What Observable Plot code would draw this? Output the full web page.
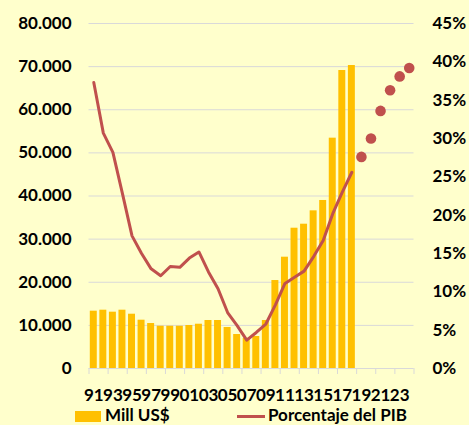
<!DOCTYPE html>
<html>
<head>
<meta charset="utf-8">
<script src="https://cdn.jsdelivr.net/npm/d3@7"></script>
<script src="https://cdn.jsdelivr.net/npm/@observablehq/plot@0.6"></script>
<style>
  html, body { margin: 0; padding: 0; background: #FFFFCC; }
  #wrap { position: relative; width: 469px; height: 425px; overflow: hidden; background: #FFFFCC;
          font-family: Lato, "Open Sans", sans-serif; font-weight: bold; font-size: 17px; color: #000; }
  #chart { position: absolute; left: 0; top: 0; }
  .lg { position: absolute; white-space: nowrap; line-height: 17px; }
</style>
</head>
<body>
<div id="wrap">
  <div id="chart"></div>
  <div class="lg" style="left:75px; top:411px; width:26px; height:11px; background:#FFC000;"></div>
  <div class="lg" style="left:105px; top:406px;">Mill US$</div>
  <div class="lg" style="left:237px; top:414.5px; width:28px; height:3px; background:#C0504D;"></div>
  <div class="lg" style="left:268px; top:406px;">Porcentaje del PIB</div>
</div>
<script>
// ---- data ----
const years = [1991,1992,1993,1994,1995,1996,1997,1998,1999,2000,2001,2002,2003,2004,2005,2006,2007,2008,2009,2010,2011,2012,2013,2014,2015,2016,2017,2018,2019,2020,2021,2022,2023,2024];
const barYears = [1991,1992,1993,1994,1995,1996,1997,1998,1999,2000,2001,2002,2003,2004,2005,2006,2007,2008,2009,2010,2011,2012,2013,2014,2015,2016,2017,2018];
const millUSD = [13290,13520,13060,13520,12590,11200,10430,9810,9810,9810,9970,10270,11130,11130,9510,7880,7000,7420,11130,20400,25810,32530,33460,36560,38960,53410,69100,70260];
const pctPIB = [37.3,30.7,28.2,22.8,17.3,15.0,13.0,12.1,13.3,13.2,14.4,15.2,12.6,10.4,7.3,5.6,3.7,4.7,5.8,8.3,11.1,11.9,12.7,14.6,16.7,20.2,23.0,25.6];
const projYears = [2019,2020,2021,2022,2023,2024];
const projPct = [27.6,30.0,33.6,36.3,38.1,39.2];
const leftTicks = [0,10000,20000,30000,40000,50000,60000,70000,80000];
const rightTicks = [0,5,10,15,20,25,30,35,40,45];
const labelYears = [1991,1993,1995,1997,1999,2001,2003,2005,2007,2009,2011,2013,2015,2017,2019,2021,2023];

// ---- derived tables ----
const bars = barYears.map((y, i) => ({year: y, value: millUSD[i]}));
const line = barYears.map((y, i) => ({year: y, pct: pctPIB[i]}));
const proj = projYears.map((y, i) => ({year: y, pct: projPct[i]}));
const yMax = leftTicks[leftTicks.length - 1];
const pMax = rightTicks[rightTicks.length - 1];
const k = yMax / pMax;

const W = 469, H = 403, mL = 88.5, mR = 55.5;
const step = (W - mL - mR) / years.length;
const fmt = d => d3.format(",")(d).replace(/,/g, ".");
const grid = "#d9d9d9";

const chart = Plot.plot({
  width: W, height: H,
  marginLeft: mL, marginRight: mR, marginTop: 23, marginBottom: H - 368,
  style: {background: "transparent", fontFamily: "Lato, 'Open Sans', sans-serif", fontWeight: "bold", fontSize: "17px", color: "#000", overflow: "visible"},
  x: {type: "band", domain: years, paddingInner: 0.27, paddingOuter: 0.135, round: false, axis: null},
  y: {domain: [0, yMax], axis: null},
  marks: [
    Plot.gridY(leftTicks.slice(1), {stroke: grid, strokeOpacity: 1}),
    Plot.barY(bars, {x: "year", y: "value", fill: "#FFC000"}),
    Plot.ruleY([0], {stroke: grid}),
    Plot.axisX({ticks: labelYears, tickSize: 6, tickFormat: () => "", dx: -step / 2, stroke: grid, label: null}),
    Plot.axisX({ticks: [years[years.length - 1]], tickSize: 6, tickFormat: () => "", dx: step / 2, stroke: grid, label: null}),
    Plot.axisX({ticks: labelYears, tickSize: 0, tickPadding: 20, tickFormat: d => String(d).slice(2), label: null, fill: "#000"}),
    Plot.axisY({ticks: leftTicks, tickSize: 0, tickPadding: 17.5, tickFormat: fmt, label: null, fill: "#000"}),
    Plot.axisY({anchor: "right", ticks: rightTicks.map(p => p * k), tickSize: 0, tickPadding: 18.5, tickFormat: d => Math.round(d / k) + "%", label: null, fill: "#000"}),
    Plot.lineY(line, {x: "year", y: d => d.pct * k, stroke: "#C0504D", strokeWidth: 3, strokeLinejoin: "round"}),
    Plot.dot(proj, {x: "year", y: d => d.pct * k, r: 5.3, fill: "#C0504D", stroke: "none"})
  ]
});
document.getElementById("chart").appendChild(chart);
</script>
</body>
</html>
